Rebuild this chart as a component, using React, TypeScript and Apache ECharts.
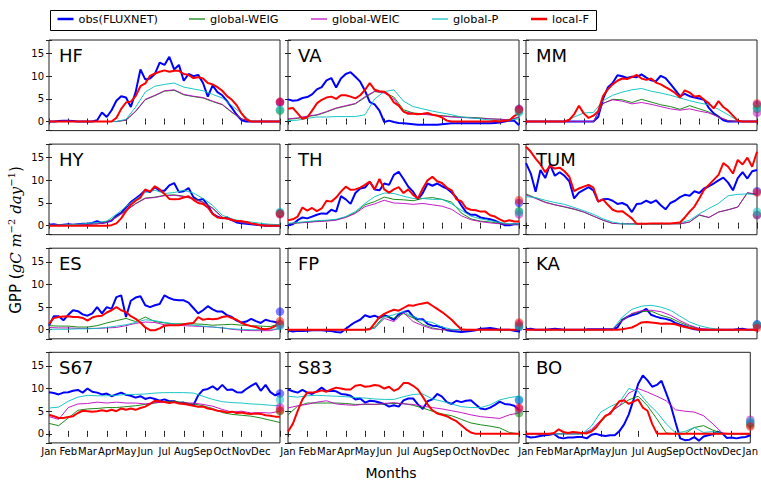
import React, { useEffect, useRef } from "react";
import * as echarts from "echarts";

const MONTHS = ["Jan", "Feb", "Mar", "Apr", "May", "Jun", "Jul", "Aug", "Sep", "Oct", "Nov", "Dec", "Jan"];
const SERIES_NAMES = ["obs(FLUXNET)", "global-WEIG", "global-WEIC", "global-P", "local-F"];
const COLORS = ["#0000ff", "#008000", "#bf00bf", "#00bfbf", "#ff0000"];
const WIDTHS = [2, 0.9, 0.9, 0.9, 2];
const Y_TICKS = [0, 5, 10, 15];

// HF
const HF_obs = [0,0,0.1,0.2,0.2,0.1,0,0,0,0,0.3,2.0,1.0,2.5,4.6,5.6,5.3,3.2,6.5,11.5,9.3,9.5,10.5,13.0,12.5,14.3,11.5,12.5,9.0,10.5,10.0,10.3,8.5,5.5,8.0,6.5,5.8,4.5,3.0,1.5,0.3,0,0,0,0,0,0,0,0];
const HF_weig = [0,0,0,0,0,0,0,0,0.3,2.2,4.8,5.7,6.7,6.9,5.9,5.5,5.2,4.4,3.7,2.0,0.6,0,0,0,0];
const HF_weic = [0,0,0,0,0,0,0,0,0.3,2.3,4.9,5.8,6.8,7.0,6.0,5.6,5.3,4.5,3.8,2.1,0.6,0,0,0,0];
const HF_p = [0,0,0,0,0,0,0,0,0.5,3.2,6.5,7.8,8.2,8.5,7.6,7.2,6.8,6.0,5.2,3.5,1.8,0.1,0,0,0];
const HF_local = [0,0,0,0,0,0,0,0,0,0,0,0,0,0,0.8,2.8,4.2,4.4,5.6,7.8,8.4,10.1,10.6,11.0,11.3,11.0,11.2,11.2,10.5,10.3,9.6,9.8,9.5,8.5,8.2,7.6,6.8,5.6,4.8,3.6,1.8,0.5,0,0,0,0,0,0,0];
const HF_dots = [4.2, 2.4, 4.3, 2.6, 4.4];

// VA
const VA_obs = [4.9,4.6,4.7,5.2,5.4,6.0,7.1,7.6,9.1,9.6,7.5,9.5,10.5,10.9,9.9,8.8,6.8,4.3,3.8,2.4,-0.1,0.2,-0.1,-0.3,-0.4,-0.5,-0.6,-0.7,-0.7,-0.7,-0.7,-0.7,-0.6,-0.5,-0.4,-0.4,-0.4,-0.4,-0.4,-0.4,-0.4,-0.4,-0.4,-0.3,-0.2,0,0.2,0.2,-0.8];
const VA_weig = [0.5,0.7,1.1,1.4,2.1,2.9,3.4,3.9,5.3,6.6,6.4,5.4,2.6,1.9,1.7,1.5,1.3,1.1,1.0,0.9,0.8,0.6,0.5,0.4,0.9];
const VA_weic = [0.6,0.8,1.2,1.5,2.2,3.0,3.5,4.0,5.5,6.7,6.3,5.0,2.2,1.8,1.6,1.4,1.2,1.0,0.9,0.8,0.7,0.6,0.5,0.4,1.0];
const VA_p = [0.2,0.3,0.7,1.0,1.0,1.1,1.1,1.1,1.5,5.0,6.6,7.0,4.5,3.3,2.8,2.3,1.9,1.5,1.0,0.8,0.6,0.3,0.2,0.3,0.6];
const VA_local = [2.8,3.0,1.8,0.6,0.9,2.4,4.0,4.8,5.3,5.5,5.0,5.8,5.8,5.5,5.1,5.8,7.0,8.5,7.0,6.7,6.6,5.8,4.2,3.5,2.2,1.7,1.7,1.6,1.7,1.9,1.5,1.3,0.9,0.2,0,0,0,0,0,0,0,0,0,0.1,0,0.2,0.3,1.2,1.8];
const VA_dots = [2.8, 2.3, 2.6, 2.0, 2.7];

// MM
const MM_obs = [0,0,0,0,0,0,0,0,0,0,0,0,0,0,0,1.0,5.0,7.5,8.5,10.2,10.0,9.6,9.9,9.8,10.4,9.7,9.1,8.9,10.1,9.6,8.3,7.0,5.6,6.1,5.6,5.3,5.1,4.8,3.0,1.8,1.1,0.3,0,0,0,0,0,0,0];
const MM_weig = [0,0,0,0,0,0,0,0,4.0,4.9,4.8,4.2,4.9,4.3,3.7,3.3,2.7,3.5,2.8,2.1,1.0,0.2,0,0,0];
const MM_weic = [0,0,0,0,0,0,0,0,4.0,4.8,4.5,3.9,4.2,3.8,3.3,2.8,2.5,2.8,2.3,1.9,1.0,0.2,0,0,0];
const MM_p = [0,0,0,0,0,1.0,1.9,2.0,4.6,5.8,6.5,7.0,7.3,6.7,6.3,5.8,5.2,4.6,4.1,3.7,2.7,1.5,0.2,0,0];
const MM_local = [0,0,0,0,0,0,0,0,0,0.4,1.6,3.5,1.8,0.8,1.3,2.3,5.6,7.1,8.2,9.0,9.5,9.4,9.8,10.3,9.5,9.2,9.5,8.6,8.2,7.6,7.0,6.3,5.3,6.9,6.4,5.5,5.7,4.8,4.0,2.9,4.5,3.2,2.4,1.3,0.2,0,0,0,0];
const MM_dots = [3.7, 2.8, 1.9, 3.0, 4.0];

// HY
const HY_obs = [0.2,0.3,0.1,0.2,0.3,0.2,0.3,0.4,0.4,0.6,1.0,0.6,0.8,1.1,2.2,2.8,4.0,5.2,6.0,6.8,7.8,7.4,8.5,7.7,7.7,8.9,9.4,7.4,7.6,8.3,6.3,5.6,5.9,4.5,2.6,2.0,1.6,1.8,1.2,0.7,0.5,0.4,0.3,0.2,0.1,0,0,0,0];
const HY_weig = [0,0.1,0.1,0.2,0.3,0.4,0.8,1.9,3.4,4.9,6.1,6.3,6.7,6.8,6.5,6.0,5.2,3.9,1.9,1.2,0.7,0.4,0.2,0.1,0.1];
const HY_weic = [0,0.1,0.1,0.2,0.3,0.4,0.7,1.8,3.3,4.8,6.0,6.2,6.6,6.7,6.4,5.9,5.1,3.8,1.8,1.1,0.7,0.4,0.2,0.1,0.1];
const HY_p = [0.1,0.1,0.2,0.3,0.5,0.7,1.0,2.5,4.2,5.8,7.3,7.8,7.1,7.3,7.8,7.2,6.0,4.5,2.3,1.5,1.0,0.8,0.5,0.3,0.2];
const HY_local = [0,0,0,0,0,0,0,0,0,0,0,0,0,0.1,0.5,1.6,3.2,4.6,5.5,6.2,8.0,7.5,8.7,8.0,7.0,5.9,5.8,5.9,6.2,6.5,5.7,5.0,4.8,4.0,2.6,1.8,1.7,1.6,1.3,1.0,1.0,0.8,0.5,0.3,0.1,0,0,0,0];
const HY_dots = [2.8, 2.7, 2.5, 3.0, 2.6];

// TH
const TH_obs = [0.1,0.3,1.2,1.8,1.6,2.0,2.4,2.7,2.6,3.5,3.1,6.5,5.8,4.8,7.2,8.2,8.4,9.7,8.0,7.8,9.3,9.0,11.2,11.9,10.3,8.6,7.5,5.8,7.2,9.3,8.8,9.3,8.7,8.2,7.3,6.2,4.5,3.0,2.4,2.4,1.8,1.6,1.4,1.1,0.6,0.1,0.1,0.3,0.3];
const TH_weig = [0.4,0.6,0.8,1.0,1.1,1.3,1.9,2.9,4.6,5.3,6.3,5.8,5.7,5.5,6.0,6.2,5.8,5.2,2.8,1.5,1.0,0.8,0.5,0.3,0.3];
const TH_weic = [0.4,0.6,0.7,0.9,1.0,1.2,1.8,2.7,4.2,4.8,5.6,5.0,4.9,4.7,4.9,4.6,4.3,3.6,2.2,1.3,0.9,0.6,0.4,0.3,0.3];
const TH_p = [0.5,0.7,0.9,1.1,1.2,1.4,2.0,3.1,4.9,6.4,7.2,7.1,6.5,6.0,6.0,5.8,5.8,4.8,3.4,2.1,1.5,1.1,0.7,0.4,0.4];
const TH_local = [1.2,1.4,2.0,4.0,3.3,3.9,3.2,3.8,5.5,5.3,6.2,7.5,8.6,7.9,8.0,8.4,9.0,9.7,8.0,10.3,8.0,7.3,8.0,8.5,7.2,8.0,6.8,6.0,8.2,10.0,10.8,9.8,9.4,8.4,7.8,5.8,5.4,3.9,3.5,3.4,3.1,3.1,2.3,2.0,1.4,0.9,1.2,0.9,0.9];
const TH_dots = [5.0, 3.2, 2.5, 3.0, 5.6];

// TUM
const TUM_obs = [13.8,11.5,7.5,12.3,10.5,13.5,11.0,11.8,11.0,9.8,6.0,7.3,7.9,8.5,7.8,5.3,5.8,5.9,5.5,4.8,5.0,4.5,3.0,4.8,4.9,5.5,5.0,5.6,4.5,3.6,5.0,5.5,6.3,6.8,6.6,7.6,7.2,8.2,8.7,9.3,10.0,10.6,9.5,7.8,10.5,11.8,10.4,12.0,12.3];
const TUM_weig = [7.0,6.1,5.2,4.6,4.1,3.6,3.0,2.1,1.2,0.5,0.4,0.4,0.4,0.4,0.4,0.4,0.4,0.8,2.3,1.8,3.0,3.5,4.1,7.2,6.9];
const TUM_weic = [6.8,6.0,5.1,4.6,4.2,3.7,3.0,2.1,1.2,0.5,0.4,0.4,0.4,0.4,0.4,0.4,0.4,0.8,2.4,1.8,3.0,3.5,4.1,7.3,6.9];
const TUM_p = [6.4,6.2,5.6,5.1,4.7,4.0,3.3,2.5,1.5,0.8,0.4,0.3,0.3,0.3,0.3,0.4,0.6,1.2,2.6,3.8,4.9,6.6,6.9,7.0,6.8];
const TUM_local = [17.4,16.3,14.8,13.5,11.8,13.2,12.6,12.8,12.0,10.8,7.6,8.2,8.6,9.0,8.4,5.3,5.8,4.6,3.5,3.1,3.2,2.4,1.6,0.4,0.4,0.4,0.5,0.5,0.5,0.5,0.5,0.6,0.7,1.8,3.1,4.2,6.0,7.9,9.0,10.1,11.2,13.8,13.0,11.5,14.5,13.5,15.0,13.0,16.3];
const TUM_dots = [7.6, 2.4, 2.3, 3.1, 7.3];

// ES
const ES_obs = [0.9,3.0,3.0,2.1,3.3,4.3,4.1,3.4,3.1,3.6,5.0,3.6,5.0,4.6,7.2,7.6,2.8,6.4,7.1,7.4,5.4,5.0,5.4,5.7,7.6,7.0,6.6,6.5,6.5,6.0,4.8,3.6,4.3,5.2,4.5,4.0,4.0,3.2,2.8,2.0,1.6,1.8,2.4,1.9,1.5,2.2,1.9,1.7,1.3];
const ES_weig = [0.9,0.8,0.8,0.6,0.6,0.9,1.5,2.0,2.5,1.8,2.8,1.8,1.5,1.3,1.3,1.3,1.2,1.0,1.1,1.2,1.0,0.9,0.8,0.7,1.4];
const ES_weic = [0.5,0.4,0.4,0.3,0.3,0.3,0.4,0.5,0.9,1.4,1.7,1.6,1.1,1.0,0.9,0.8,0.7,0.6,0.4,0.1,-0.1,-0.2,-0.2,-0.2,0.3];
const ES_p = [0.1,0.1,0.1,0.2,0.2,0.3,0.5,0.8,1.1,1.6,2.2,2.0,1.6,1.3,1.2,1.0,0.8,0.6,0.4,0.2,0.1,0.0,0.0,0.1,0.2];
const ES_local = [1.3,2.6,2.8,2.9,3.0,2.8,2.8,2.6,2.0,2.7,3.0,3.1,3.8,4.3,5.0,4.3,3.9,3.0,2.4,1.6,0.5,-0.1,-0.1,0.3,0.9,1.0,1.0,1.0,1.2,1.4,1.5,2.8,2.2,2.4,2.3,2.4,2.8,3.0,2.6,2.2,1.5,1.1,0.8,0.6,0.2,0.1,0.3,0.8,1.5];
const ES_dots = [4.0, 1.3, 1.1, 0.8, 1.9];

// FP
const FP_obs = [-0.1,-0.4,-0.2,-0.3,-0.2,-0.1,-0.1,-0.1,-0.2,-0.3,-0.5,-0.6,0.2,1.0,1.7,2.2,3.2,2.8,3.1,2.6,3.2,2.8,2.2,3.4,3.9,4.2,2.9,2.3,2.3,1.3,0.9,0.8,0.5,-0.1,-0.3,-0.4,-0.5,-0.4,-0.3,-0.1,0.2,0.3,0.4,0.2,0.0,0.0,0.0,-0.2,-0.4];
const FP_weig = [0,0,0,0,0,0,0,0,0,0.6,3.0,2.5,3.6,2.6,1.2,0.4,0,0,0,0,0,0,0,0,0];
const FP_weic = [0,0,0,0,0,0,0,0,0,0.4,2.5,1.8,3.8,1.8,0.9,0.2,0,0,0,0,0,0,0,0,0];
const FP_p = [0,0,0,0,0,0,0,0,0,0.3,2.8,3.3,4.0,2.9,2.0,1.6,0.6,0.1,0,0,0,0,0,0,0];
const FP_local = [0,0,0,0,0,0,0,0,0,0,0,0,0,0,0,0,0,0.1,1.4,2.8,3.5,4.0,4.4,4.2,4.8,5.4,5.3,5.6,5.8,6.0,5.3,4.6,3.9,3.1,2.2,1.1,0.1,0,0,0,0,0,0,0,0,0,0,0,0];
const FP_dots = [0.6, 0.9, 1.2, 0.8, 1.6];

// KA
const KA_obs = [0.1,0.2,0.0,0.0,0.0,0.1,0.2,0.1,0.0,0.0,0.0,0.0,0.0,0.1,0.1,0.1,0.1,0.1,0.1,0.5,2.2,2.8,3.2,3.5,4.0,4.6,3.3,2.9,2.6,2.4,2.1,1.5,1.1,0.8,0.4,0.1,0.0,0.0,0.0,0.0,0.0,0.0,0.0,0.0,0.1,0.2,0.0,0.0,0.0];
const KA_weig = [0,0,0,0,0,0,0,0,0,0.1,2.2,3.5,4.0,4.1,3.2,2.6,1.6,0.8,0.2,0,0,0,0,0,0];
const KA_weic = [0,0,0,0,0,0,0,0,0,0.1,2.0,3.6,4.2,4.3,4.0,3.2,2.0,1.0,0.3,0.1,0,0,0,0,0];
const KA_p = [0,0,0,0,0,0,0,0,0,0.1,2.8,4.5,5.2,5.4,5.0,4.3,3.0,1.7,0.9,0.4,0.1,0,0,0,0];
const KA_local = [0,0,0,0,0,0,0,0,0,0,0,0,0,0,0,0,0,0,0,0,0.1,0.3,0.5,1.0,1.6,1.7,1.6,1.5,1.3,1.4,1.3,1.2,0.9,0.6,0.4,0.2,0,0,0,0,0,0,0,0,0,0,0,0,0];
const KA_dots = [1.2, 1.0, 0.9, 1.1, 0.4];

// S67
const S67_obs = [9.2,9.0,8.7,9.1,9.2,9.5,9.7,9.1,10.0,9.3,9.1,8.7,8.9,8.3,8.7,9.1,8.6,8.4,8.0,8.3,7.7,8.0,7.7,7.3,7.6,7.2,7.2,6.8,6.9,6.5,6.3,8.5,9.7,9.9,10.5,9.7,10.8,9.7,9.8,9.2,9.1,9.9,10.6,11.2,9.5,10.8,9.2,8.5,9.0];
const S67_weig = [2.3,1.8,3.5,5.2,5.5,5.6,5.8,5.8,6.0,6.2,6.5,6.8,7.1,7.2,6.9,6.6,6.2,5.6,4.7,4.3,4.1,3.9,3.5,3.0,2.5];
const S67_weic = [3.8,3.2,5.8,6.6,6.7,7.0,6.8,7.0,6.8,6.8,6.6,6.9,7.0,6.9,6.8,6.8,6.5,6.1,5.4,4.8,5.0,4.6,4.7,4.6,5.0];
const S67_p = [5.7,5.9,7.2,8.1,8.5,8.4,8.4,8.5,8.7,8.7,8.8,9.0,9.1,9.1,9.1,9.0,8.3,7.6,7.1,6.9,6.8,6.6,6.5,6.3,6.2];
const S67_local = [4.2,3.9,3.5,3.5,3.7,3.9,4.6,5.1,5.0,4.9,5.0,5.2,5.0,5.3,5.0,5.6,5.3,5.6,5.3,5.7,6.0,6.6,7.3,7.2,7.0,6.8,7.0,6.7,6.6,6.4,6.2,6.0,6.0,5.6,5.4,5.1,5.0,4.7,4.9,4.6,4.7,4.5,4.4,4.5,4.4,4.1,4.0,3.8,3.8];
const S67_dots = [8.9, 5.0, 5.9, 7.5, 5.2];

// S83
const S83_obs = [9.8,9.4,9.1,9.7,9.1,8.8,9.4,10.2,9.4,9.5,9.4,8.8,8.7,8.4,7.6,7.8,6.9,7.3,7.2,6.9,6.6,6.0,6.3,6.0,7.4,7.8,7.8,6.5,5.5,7.2,7.6,8.8,8.2,7.0,6.6,7.3,7.0,7.3,7.4,6.5,5.6,5.4,5.8,6.4,7.1,6.6,6.5,6.2,5.3];
const S83_weig = [4.2,6.1,6.8,6.8,6.8,6.8,6.7,6.5,6.5,6.5,6.6,6.7,6.7,6.3,5.7,5.0,4.4,4.0,3.2,2.4,2.0,1.7,1.3,0.3,0.0];
const S83_weic = [5.7,6.2,6.5,7.0,7.3,6.6,6.4,6.3,6.6,6.5,6.7,6.9,6.6,6.5,6.1,5.8,5.5,5.1,4.7,4.2,3.8,3.6,3.4,4.2,4.6];
const S83_p = [8.3,8.1,8.4,8.5,8.4,8.3,8.2,8.0,7.9,7.7,7.6,7.6,8.2,8.7,8.8,7.7,7.2,6.6,6.0,5.8,5.8,6.4,7.5,8.0,8.3];
const S83_local = [0.5,2.2,5.0,7.6,9.1,9.1,9.3,9.6,9.3,9.8,10.2,10.0,9.8,9.8,10.6,10.8,10.4,10.5,10.8,10.6,10.0,10.4,9.5,10.0,11.2,11.2,10.6,9.8,8.2,6.5,5.2,4.5,4.2,3.9,3.3,2.8,1.9,1.0,0.3,0,0,0,0,0,0,0,0,0,0];
const S83_dots = [7.4, 4.6, 5.5, 7.6, 5.8];

// BO
const BO_obs = [-0.5,-0.8,-0.7,-0.5,-0.3,-0.2,0.0,-0.8,-1.0,-0.8,-0.8,-0.7,-0.7,-1.0,-0.2,0.0,-0.3,-0.5,-0.3,-0.3,0.6,2.1,4.3,7.5,11.0,12.9,11.8,10.4,10.8,11.7,9.0,6.2,2.5,-1.0,-1.4,-1.3,-0.7,-1.5,-0.6,-0.3,-0.1,0.5,0.1,-0.9,-0.8,-1.0,-0.8,-0.7,-0.3];
const BO_weig = [0,0,0,0,0,0,0,0.7,2.6,4.8,6.2,7.5,8.3,6.2,3.3,0.2,0,0,1.4,1.8,0.8,0.1,0,0,0];
const BO_weic = [0,0,0,0,0,0,0,1.0,3.0,4.8,6.2,9.0,10.0,9.2,8.3,7.3,5.3,5.0,4.8,4.0,2.2,0.2,0,0,0];
const BO_p = [0,0,0,0,0,0,0,1.7,4.8,6.0,7.0,10.0,9.4,6.8,4.8,2.2,0.2,0.5,1.4,0.3,0.5,0,0,0,0];
const BO_local = [0,0,0,0,0,0,0.2,1.0,0.4,0.2,0.4,0.3,0.2,0.1,0.5,1.4,2.8,4.0,4.4,5.9,7.2,7.4,6.6,7.1,7.6,5.8,5.1,2.2,0.1,0,0,0,0,0,0,0,0,0,0,0,0,0,0,0,0,0,0,0,0];
const BO_dots = [2.4, 2.0, 3.1, 2.8, 1.6];

const PANELS = [
  { name: "HF", lines: [HF_obs, HF_weig, HF_weic, HF_p, HF_local], dots: HF_dots },
  { name: "VA", lines: [VA_obs, VA_weig, VA_weic, VA_p, VA_local], dots: VA_dots },
  { name: "MM", lines: [MM_obs, MM_weig, MM_weic, MM_p, MM_local], dots: MM_dots },
  { name: "HY", lines: [HY_obs, HY_weig, HY_weic, HY_p, HY_local], dots: HY_dots },
  { name: "TH", lines: [TH_obs, TH_weig, TH_weic, TH_p, TH_local], dots: TH_dots },
  { name: "TUM", lines: [TUM_obs, TUM_weig, TUM_weic, TUM_p, TUM_local], dots: TUM_dots },
  { name: "ES", lines: [ES_obs, ES_weig, ES_weic, ES_p, ES_local], dots: ES_dots },
  { name: "FP", lines: [FP_obs, FP_weig, FP_weic, FP_p, FP_local], dots: FP_dots },
  { name: "KA", lines: [KA_obs, KA_weig, KA_weic, KA_p, KA_local], dots: KA_dots },
  { name: "S67", lines: [S67_obs, S67_weig, S67_weic, S67_p, S67_local], dots: S67_dots },
  { name: "S83", lines: [S83_obs, S83_weig, S83_weic, S83_p, S83_local], dots: S83_dots },
  { name: "BO", lines: [BO_obs, BO_weig, BO_weic, BO_p, BO_local], dots: BO_dots },
];

const FONT = "DejaVu Sans";
const COL_LEFT = [49, 288, 526];
const ROW_TOP = [40, 144.1, 248.2, 352.3];
const GRID_W = 231;
const GRID_H = 90.6;
const LEGEND_X = [57.5, 189, 311, 432, 531];
const LEGEND_ICON_H = [2.5, 1.2, 1.2, 1.2, 2.5];

const toXY = (arr: number[]) => arr.map((v, i) => [(i * 12) / (arr.length - 1), v]);

function buildOption() {
  const grid: any[] = [];
  const xAxis: any[] = [];
  const yAxis: any[] = [];
  const series: any[] = [];
  const graphic: any[] = [];
  const tick = { show: true, inside: true, length: 3, lineStyle: { color: "#222", width: 1 } };

  PANELS.forEach((p, k) => {
    const r = Math.floor(k / 3);
    const c = k % 3;
    const left = COL_LEFT[c];
    const top = ROW_TOP[r];
    grid.push({ left, top, width: GRID_W, height: GRID_H, show: true, borderColor: "#222", borderWidth: 1, backgroundColor: "#fff" });
    xAxis.push({
      gridIndex: k, type: "value", min: 0, max: 12, interval: 1, position: "bottom",
      axisLine: { show: false }, axisTick: tick, splitLine: { show: false },
      axisLabel: {
        show: r === 3, margin: 4, fontSize: 10, color: "#000", fontFamily: FONT,
        formatter: (v: number) => {
          const i = Math.round(v);
          if (i === 12 && c < 2) return "";
          return MONTHS[i] ?? "";
        },
      },
    });
    xAxis.push({
      gridIndex: k, type: "value", min: 0, max: 12, interval: 1, position: "top",
      axisLine: { show: false }, axisTick: tick, splitLine: { show: false }, axisLabel: { show: false },
    });
    yAxis.push({
      gridIndex: k, type: "value", min: -2, max: 18, splitNumber: 4, minInterval: 5, maxInterval: 5, position: "left",
      axisLine: { show: false }, axisTick: tick, splitLine: { show: false },
      axisLabel: {
        show: c === 0, margin: 5, fontSize: 10, color: "#000", fontFamily: FONT,
        formatter: (v: number) => (Y_TICKS.indexOf(Math.round(v * 1000) / 1000) >= 0 ? String(v) : ""),
      },
    });
    yAxis.push({
      gridIndex: k, type: "value", min: -2, max: 18, splitNumber: 4, minInterval: 5, maxInterval: 5, position: "right",
      axisLine: { show: false }, axisTick: tick, splitLine: { show: false }, axisLabel: { show: false },
    });
    p.lines.forEach((arr, j) => {
      series.push({
        type: "line", name: SERIES_NAMES[j], xAxisIndex: 2 * k, yAxisIndex: 2 * k,
        data: toXY(arr), symbol: "none", showSymbol: false, smooth: false,
        lineStyle: { color: COLORS[j], width: WIDTHS[j] }, itemStyle: { color: COLORS[j] },
        z: 2 + j * 0.1, silent: true,
      });
    });
    series.push({
      type: "scatter", name: "annual", xAxisIndex: 2 * k, yAxisIndex: 2 * k, clip: false, silent: true,
      symbolSize: 8.5, z: 5,
      data: p.dots.map((v, j) => ({ value: [12, v], itemStyle: { color: COLORS[j], opacity: 0.5 } })),
    });
    graphic.push({
      type: "text", x: left + 10, y: top + 15,
      style: { text: p.name, fontSize: 18, fontFamily: FONT, fill: "#000", align: "left", verticalAlign: "middle" },
      z: 10,
    });
  });

  graphic.push({
    type: "rect", shape: { x: 50.5, y: 10.5, width: 546, height: 20 },
    style: { fill: "none", stroke: "#000", lineWidth: 1 }, z: 10,
  });
  graphic.push({
    type: "text", x: 391, y: 473,
    style: { text: "Months", fontSize: 14, fontFamily: FONT, fill: "#000", align: "center", verticalAlign: "middle" },
  });
  graphic.push({
    type: "text", x: 16, y: 240, rotation: Math.PI / 2,
    style: {
      text: "{a|GPP (}{b|gC m}{c|−2}{b| day}{c|−1}{a|)}",
      align: "center", verticalAlign: "middle", fill: "#000",
      rich: {
        a: { fontSize: 15, fontFamily: FONT, lineHeight: 19, fill: "#000" },
        b: { fontSize: 15, fontFamily: "DejaVu Serif", fontStyle: "italic", lineHeight: 19, fill: "#000" },
        c: { fontSize: 10, fontFamily: "DejaVu Serif", lineHeight: 19, verticalAlign: "top", fill: "#000" },
      },
    },
  });

  const legend = SERIES_NAMES.map((n, j) => ({
    data: [{ name: n, icon: "rect" }], left: LEGEND_X[j], top: 13.5, padding: 0,
    itemWidth: 16, itemHeight: LEGEND_ICON_H[j], icon: "rect",
    selectedMode: false,
    textStyle: { fontSize: 11.3, fontFamily: FONT, color: "#000" },
  }));

  return {
    animation: false,
    backgroundColor: "#fff",
    textStyle: { fontFamily: FONT },
    legend, grid, xAxis, yAxis, series, graphic,
  };
}

export default function App() {
  const ref = useRef<HTMLDivElement>(null);
  useEffect(() => {
    if (!ref.current) return;
    const chart = echarts.init(ref.current, null, { renderer: "svg" });
    chart.setOption(buildOption() as any);
    return () => chart.dispose();
  }, []);
  return <div ref={ref} style={{ position: "fixed", left: 0, top: 0, width: 761, height: 480, background: "#fff" }} />;
}
